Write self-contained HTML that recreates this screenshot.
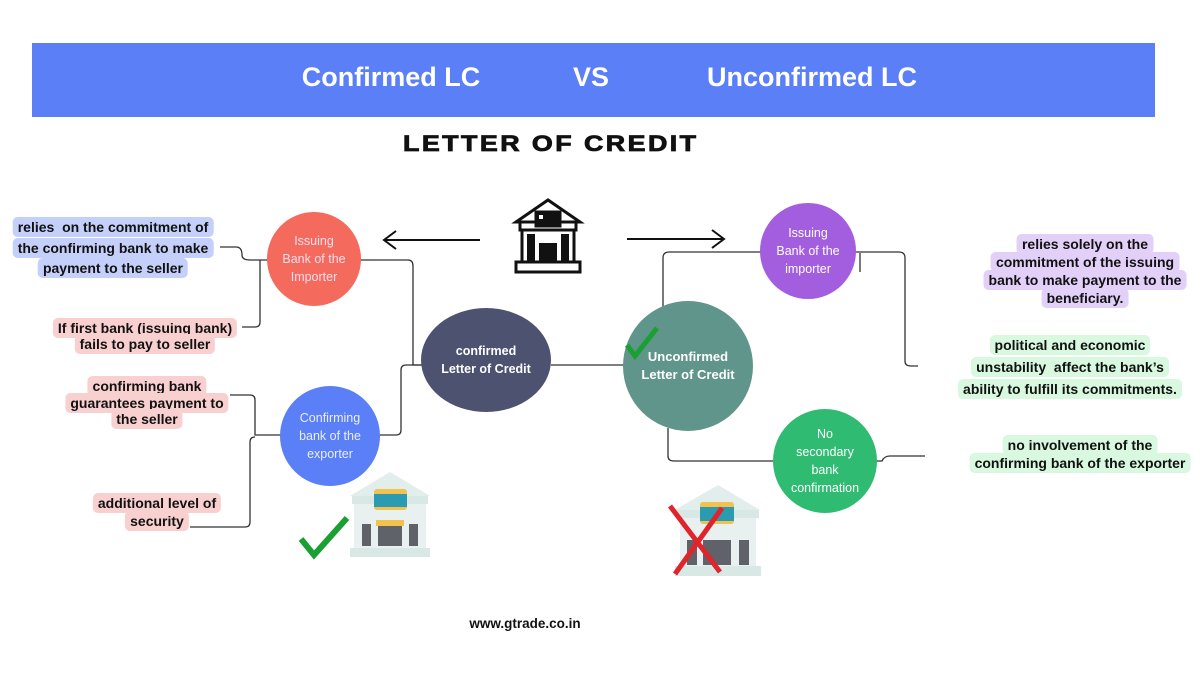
<!DOCTYPE html>
<html><head><meta charset="utf-8"><style>
body{margin:0;width:1200px;height:675px;background:#fff;position:relative;overflow:hidden;font-family:"Liberation Sans",sans-serif}
.a{position:absolute}
.hdr{left:32px;top:43px;width:1123px;height:74px;background:#5b7ff6}
.ht{position:absolute;top:62px;color:#fff;font-weight:bold;font-size:27px;transform:translateX(-50%);white-space:nowrap}
.t{position:absolute;transform:translateX(-50%);text-align:center;font-weight:bold;font-size:14px;color:#111;white-space:nowrap;line-height:18px}
.t span{padding:2px 5px;border-radius:5px}
.c{position:absolute;border-radius:50%;display:flex;align-items:center;justify-content:center;text-align:center;color:#fff;font-size:12.5px;line-height:18px}
</style></head><body>
<div class="a hdr"></div>
<div class="ht" style="left:391px">Confirmed LC</div>
<div class="ht" style="left:591px">VS</div>
<div class="ht" style="left:812px">Unconfirmed LC</div>
<div class="a" style="left:403px;top:131px;font-weight:bold;font-size:22px;letter-spacing:2px;color:#111;transform:scaleX(1.22);transform-origin:left;-webkit-text-stroke:0.8px #111">LETTER OF CREDIT</div>

<svg class="a" style="left:0;top:0" width="1200" height="675">
<g fill="none" stroke="#333" stroke-width="1.3">
<path d="M220 247 H236 Q242 247 242 255 Q242 260 250 260 H268"/>
<path d="M260 260 V322 Q260 327 255 327 H242"/>
<path d="M360 260 H408 Q413 260 413 266 V365 H422"/>
<path d="M230 395 H250 Q255 395 255 400 V435 H281"/>
<path d="M255 437 Q250 437 250 442 V522 Q250 527 245 527 H190"/>
<path d="M379 435 H396 Q401 435 401 430 V370 Q401 365 406 365 H422"/>
<path d="M551 365 H624"/>
<path d="M663 312 V258 Q663 252 669 252 H761"/>
<path d="M855 252 H899 Q905 252 905 258 V361 Q905 366 911 366 H918"/>
<path d="M860 253 V272"/>
<path d="M668 428 V456 Q668 461 674 461 H774"/>
<path d="M876 461 H882 Q884 456 890 456 H925"/>
</g>
<g fill="none" stroke="#111" stroke-width="2">
<path d="M480 240 H384 M396 231 L384 240 L396 249"/>
<path d="M627 239 H724 M712 230 L724 239 L712 248"/>
</g>
<!-- bank icon -->
<g fill="#fff" stroke="#111" stroke-width="3">
<path d="M516 222 L548 200 L580 222 Z"/>
<rect x="520" y="222" width="56" height="8"/>
<rect x="522" y="230" width="52" height="32"/>
<rect x="516" y="262" width="64" height="10"/>
<rect x="536" y="212" width="24" height="14" fill="#111"/>
</g>
<g fill="#111"><rect x="527" y="234" width="8" height="27"/><rect x="561" y="234" width="8" height="27"/><rect x="539" y="243" width="18" height="19"/></g>
<rect x="539" y="215" width="4" height="4" fill="#fff"/>
<!-- left pale bank -->
<g>
<path d="M350 496 L390 472 L430 496 Z" fill="#e1eeec"/>
<rect x="352" y="496" width="76" height="8" fill="#d7e8e5"/>
<rect x="354" y="504" width="72" height="44" fill="#e8f1f0"/>
<rect x="374" y="489" width="33" height="21" rx="3" fill="#f2c14e"/>
<rect x="374" y="494" width="33" height="13" fill="#2a9bb0"/>
<rect x="362" y="524" width="9" height="22" fill="#5f6369"/>
<rect x="409" y="524" width="9" height="22" fill="#5f6369"/>
<rect x="378" y="525" width="24" height="21" fill="#5f6369"/>
<rect x="376" y="520" width="28" height="6" fill="#f2c14e"/>
<rect x="350" y="548" width="80" height="9" fill="#d7e8e5"/>
</g>
<path d="M301 539 L314 555 L347 518" fill="none" stroke="#1aa032" stroke-width="6"/>
<!-- right pale bank -->
<g>
<path d="M675 510 L718 485 L760 510 Z" fill="#e1eeec"/>
<rect x="677" y="510" width="82" height="8" fill="#d7e8e5"/>
<rect x="680" y="518" width="76" height="50" fill="#e8f1f0"/>
<rect x="700" y="502" width="34" height="22" rx="3" fill="#f2c14e"/>
<rect x="700" y="507" width="34" height="14" fill="#2a9bb0"/>
<rect x="687" y="540" width="10" height="25" fill="#5f6369"/>
<rect x="739" y="540" width="10" height="25" fill="#5f6369"/>
<rect x="703" y="540" width="28" height="25" fill="#5f6369"/>
<rect x="675" y="566" width="86" height="10" fill="#d7e8e5"/>
</g>
<path d="M670 506 L720 572 M722 508 L675 574" stroke="#e0242b" stroke-width="5"/>
</svg>

<div class="c" style="left:267px;top:212px;width:94px;height:94px;background:#f46b5e;color:#fde">Issuing<br>Bank of the<br>Importer</div>
<div class="c" style="left:280px;top:386px;width:100px;height:100px;background:#5b7ff6;color:#e8eeff">Confirming<br>bank of the<br>exporter</div>
<div class="c" style="left:421px;top:308px;width:130px;height:104px;background:#4c5270;font-weight:bold;font-size:12.5px">confirmed<br>Letter of Credit</div>
<div class="c" style="left:623px;top:301px;width:130px;height:130px;background:#5f958a;font-weight:bold;font-size:13px">Unconfirmed<br>Letter of Credit</div>
<div class="c" style="left:760px;top:203px;width:96px;height:96px;background:#a35ee0">Issuing<br>Bank of the<br>importer</div>
<div class="c" style="left:773px;top:409px;width:104px;height:104px;background:#2fbc72">No<br>secondary<br>bank<br>confirmation</div>
<svg class="a" style="left:622px;top:323px" width="40" height="40"><path d="M5 22 L13 33 L35 5" fill="none" stroke="#1aa032" stroke-width="5"/></svg>

<div class="t" style="left:113px;top:217px;line-height:20.5px"><span style="background:#c5d0fa">relies &nbsp;on the commitment of</span><br><span style="background:#c5d0fa">the confirming bank to make</span><br><span style="background:#c5d0fa">payment to the seller</span></div>
<div class="t" style="left:145px;top:320px;line-height:16px"><span style="background:#f9d0d0">If first bank (issuing bank)</span><br><span style="background:#f9d0d0">fails to pay to seller</span></div>
<div class="t" style="left:147px;top:378px;line-height:16.5px"><span style="background:#f9d0d0">confirming bank</span><br><span style="background:#f9d0d0">guarantees payment to</span><br><span style="background:#f9d0d0">the seller</span></div>
<div class="t" style="left:157px;top:494px;line-height:18px"><span style="background:#f9d0d0">additional level of</span><br><span style="background:#f9d0d0">security</span></div>
<div class="t" style="left:1085px;top:235px;line-height:18px"><span style="background:#e3d0f8">relies solely on the</span><br><span style="background:#e3d0f8">commitment of the issuing</span><br><span style="background:#e3d0f8">bank to make payment to the</span><br><span style="background:#e3d0f8">beneficiary.</span></div>
<div class="t" style="left:1070px;top:334px;line-height:22px"><span style="background:#d8f8df">political and economic</span><br><span style="background:#d8f8df">unstability &nbsp;affect the bank’s</span><br><span style="background:#d8f8df">ability to fulfill its commitments.</span></div>
<div class="t" style="left:1080px;top:436px;line-height:18px"><span style="background:#d8f8df">no involvement of the</span><br><span style="background:#d8f8df">confirming bank of the exporter</span></div>
<div class="t" style="left:525px;top:615px;font-size:13.5px">www.gtrade.co.in</div>
</body></html>
